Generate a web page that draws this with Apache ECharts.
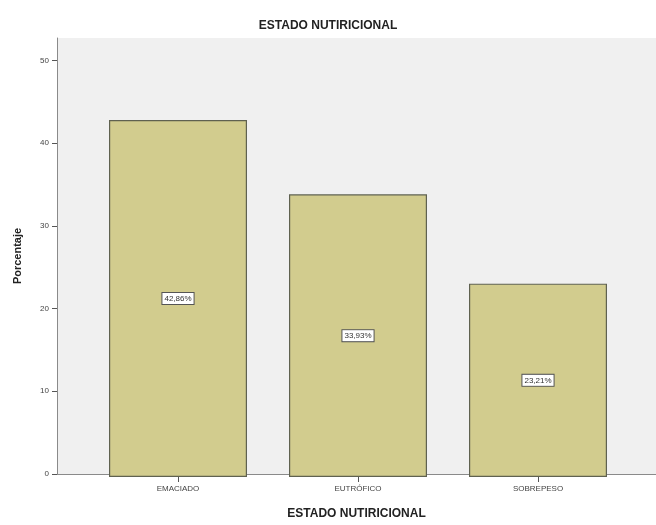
<!DOCTYPE html>
<html>
<head>
<meta charset="utf-8">
<script src="https://cdn.jsdelivr.net/npm/echarts@6/dist/echarts.min.js"></script>
<style>
  html, body { margin: 0; padding: 0; background: #fff; }
  #chart { width: 656px; height: 525px; }
</style>
</head>
<body>
<div id="chart"></div>
<script>
// datos
const categories = ['EMACIADO', 'EUTRÓFICO', 'SOBREPESO']
const porcentajes = [42.86, 33.93, 23.21]
const yTicks = [0, 10, 20, 30, 40, 50]

const chart = echarts.init(document.getElementById('chart'))
const font = 'Liberation Sans, Arial, sans-serif'

const option = {
  animation: false,
  title: {
    text: 'ESTADO NUTIRICIONAL',
    left: 'center',
    top: 15,
    textStyle: { fontFamily: font, fontSize: 12, fontWeight: 'bold', color: '#222' }
  },
  // grid 0: fondo y eje Y ; grid 1: barras (con margen como en SPSS)
  grid: [
    { left: 57, right: 0, top: 38, bottom: 48, show: true, backgroundColor: '#f0f0f0', borderWidth: 0 },
    { left: 88, right: 28, top: 38, bottom: 48 }
  ],
  xAxis: [
    {
      gridIndex: 0, type: 'value', min: 0, max: 1,
      axisLine: { show: true, lineStyle: { color: '#8a8a8a', width: 1 } },
      axisTick: { show: false }, axisLabel: { show: false }, splitLine: { show: false },
      name: 'ESTADO NUTIRICIONAL', nameLocation: 'middle', nameGap: 34,
      nameTextStyle: { fontFamily: font, fontSize: 12, fontWeight: 'bold', color: '#222' }
    },
    {
      gridIndex: 1, type: 'category', data: categories,
      axisLine: { show: false },
      axisTick: { show: true, alignWithLabel: true, inside: false, length: 5, lineStyle: { color: '#555' } },
      axisLabel: { fontFamily: font, fontSize: 8, color: '#444', margin: 8 }
    }
  ],
  yAxis: [
    {
      gridIndex: 0, type: 'value', min: 0, max: 52.7, interval: 10,
      axisLine: { show: true, lineStyle: { color: '#8a8a8a', width: 1 } },
      axisTick: { show: true, length: 5, lineStyle: { color: '#555' } },
      axisLabel: {
        fontFamily: font, fontSize: 8, color: '#444', margin: 8, showMaxLabel: false,
        formatter: v => (yTicks.includes(v) ? String(v) : '')
      },
      splitLine: { show: false },
      name: 'Porcentaje', nameLocation: 'middle', nameGap: 34, nameRotate: 90,
      nameTextStyle: { fontFamily: font, fontSize: 11, fontWeight: 'bold', color: '#222' }
    },
    {
      gridIndex: 1, type: 'value', min: 0, max: 52.7, show: false
    }
  ],
  series: [
    {
      type: 'bar',
      xAxisIndex: 1,
      yAxisIndex: 1,
      data: porcentajes,
      barWidth: 138,
      itemStyle: { color: '#d2cc8e', borderColor: '#5f6150', borderWidth: 1.2 },
      label: {
        show: true,
        position: 'inside',
        formatter: p => p.value.toFixed(2).replace('.', ',') + '%',
        fontFamily: font,
        fontSize: 8,
        color: '#333',
        backgroundColor: '#fff',
        borderColor: '#555',
        borderWidth: 1,
        padding: [2, 2, 1, 2]
      }
    }
  ]
}

chart.setOption(option)
</script>
</body>
</html>
